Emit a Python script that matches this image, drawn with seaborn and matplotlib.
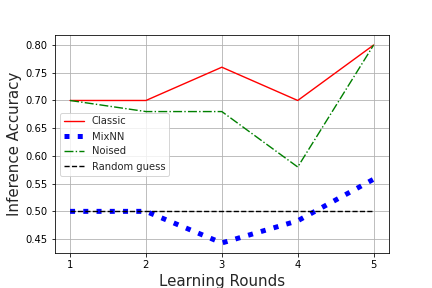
import pandas as pd
import matplotlib
matplotlib.use("Agg")
import matplotlib.pyplot as plt
import seaborn as sns

# Data
rounds = [1, 2, 3, 4, 5]
classic = [0.70, 0.70, 0.76, 0.70, 0.80]
mixnn = [0.50, 0.50, 0.443, 0.483, 0.558]
noised = [0.70, 0.68, 0.68, 0.58, 0.80]
random_guess = [0.50, 0.50, 0.50, 0.50, 0.50]

df = pd.DataFrame({"round": rounds, "Classic": classic, "MixNN": mixnn,
                   "Noised": noised, "Random guess": random_guess})

sns.set_style("ticks")
fig, ax = plt.subplots(figsize=(6, 4), dpi=72)

sns.lineplot(data=df, x="round", y="Classic", color="red", lw=1.4,
             label="Classic", ax=ax)
sns.lineplot(data=df, x="round", y="MixNN", color="blue", lw=5,
             linestyle=":", label="MixNN", ax=ax)
sns.lineplot(data=df, x="round", y="Noised", color="green", lw=1.4,
             linestyle="-.", label="Noised", ax=ax)
sns.lineplot(data=df, x="round", y="Random guess", color="black", lw=1.4,
             linestyle="--", label="Random guess", ax=ax)

ax.grid(True, color="#b0b0b0", lw=0.8)
ax.set_xticks(rounds)
ax.set_xlabel("Learning Rounds", fontsize=15)
ax.set_ylabel("Inference Accuracy", fontsize=15)
ax.tick_params(labelsize=10, colors="black")
for s in ax.spines.values():
    s.set_color("black")
ax.legend(loc="center left", fontsize=10)

plt.subplots_adjust(left=0.127, right=0.9, top=0.878, bottom=0.122)
plt.savefig("out.png", dpi=72)
